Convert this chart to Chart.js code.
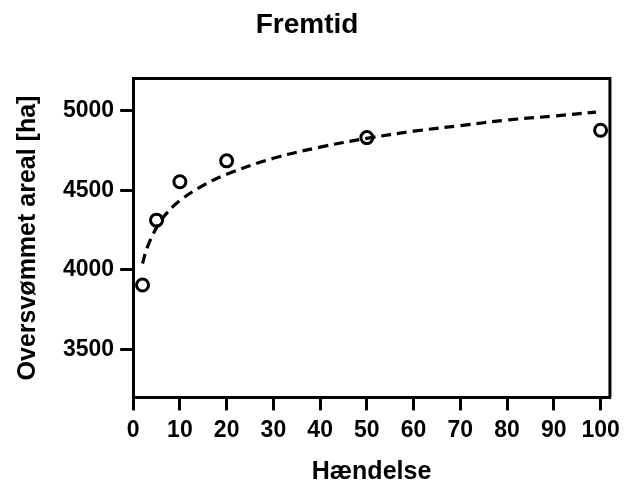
<!DOCTYPE html>
<html>
<head>
<meta charset="utf-8">
<script src="https://cdn.jsdelivr.net/npm/chart.js@4.4.0/dist/chart.umd.min.js"></script>
<style>
  html, body { margin: 0; padding: 0; background: #fff; }
  #wrap { width: 626px; height: 487px; }
</style>
</head>
<body>
<div id="wrap"><canvas id="chart" width="626" height="487"></canvas></div>
<script>
// observed events
var events = [2, 5, 10, 20, 50, 100];
var areas = [3905, 4312, 4553, 4684, 4830, 4876];

// dashed trend line
var fitX = [2, 3, 5, 7, 10, 15, 20, 30, 40, 50, 60, 70, 80, 90, 99];
var fitY = [4040, 4140, 4265, 4350, 4435, 4530, 4600, 4700, 4770, 4825, 4870, 4905, 4940, 4965, 4990];

var xTicks = [0, 10, 20, 30, 40, 50, 60, 70, 80, 90, 100];
var yTicks = [3500, 4000, 4500, 5000];

var font = "'Liberation Sans', Arial, sans-serif";

var pts = events.map(function(x, i) { return {x: x, y: areas[i]}; });
var fit = fitX.map(function(x, i) { return {x: x, y: fitY[i]}; });

// top and right edge of the box
var frame = {
  id: 'frame',
  afterDatasetsDraw: function(chart) {
    var a = chart.chartArea, ctx = chart.ctx;
    ctx.save();
    ctx.strokeStyle = '#000';
    ctx.lineWidth = 3;
    ctx.beginPath();
    ctx.moveTo(a.left, a.top);
    ctx.lineTo(a.right, a.top);
    ctx.lineTo(a.right, a.bottom);
    ctx.stroke();
    ctx.restore();
  }
};

new Chart(document.getElementById('chart'), {
  type: 'scatter',
  data: {
    datasets: [
      {
        label: 'Tendens',
        data: fit,
        showLine: true,
        borderColor: '#000',
        borderWidth: 3.2,
        borderDash: [10, 6],
        pointRadius: 0,
        tension: 0.4,
        fill: false
      },
      {
        label: 'Hændelser',
        data: pts,
        pointStyle: 'circle',
        pointRadius: 6,
        pointBorderWidth: 3,
        pointBorderColor: '#000',
        pointBackgroundColor: 'rgba(255,255,255,0)'
      }
    ]
  },
  options: {
    responsive: false,
    animation: false,
    layout: { padding: { top: 0, right: 12, left: 0, bottom: 0 } },
    plugins: {
      legend: { display: false },
      tooltip: { enabled: false },
      title: {
        display: true,
        text: 'Fremtid',
        color: '#000',
        font: { family: font, size: 28, weight: 'bold' },
        padding: { top: 8, bottom: 37 }
      }
    },
    scales: {
      x: {
        type: 'linear',
        min: 0,
        max: 102,
        afterBuildTicks: function(s) { s.ticks = xTicks.map(function(v) { return {value: v}; }); },
        grid: { display: true, drawOnChartArea: false, drawTicks: true, tickLength: 13, color: '#000', lineWidth: 3 },
        border: { display: true, color: '#000', width: 3 },
        ticks: {
          color: '#000', padding: 6, maxRotation: 0,
          font: { family: font, size: 23, weight: 'bold' },
          callback: function(v) { return String(v); }
        },
        title: { display: true, text: 'Hændelse', color: '#000', font: { family: font, size: 25, weight: 'bold' }, padding: { top: 7, bottom: 0 } }
      },
      y: {
        type: 'linear',
        min: 3200,
        max: 5200,
        afterBuildTicks: function(s) { s.ticks = yTicks.map(function(v) { return {value: v}; }); },
        grid: { display: true, drawOnChartArea: false, drawTicks: true, tickLength: 13, color: '#000', lineWidth: 3 },
        border: { display: true, color: '#000', width: 3 },
        ticks: {
          color: '#000', padding: 6,
          font: { family: font, size: 23, weight: 'bold' },
          callback: function(v) { return String(v); }
        },
        title: { display: true, text: 'Oversvømmet areal [ha]', color: '#000', font: { family: font, size: 25, weight: 'bold' }, padding: { top: 13, bottom: 14 } }
      }
    }
  },
  plugins: [frame]
});
</script>
</body>
</html>
